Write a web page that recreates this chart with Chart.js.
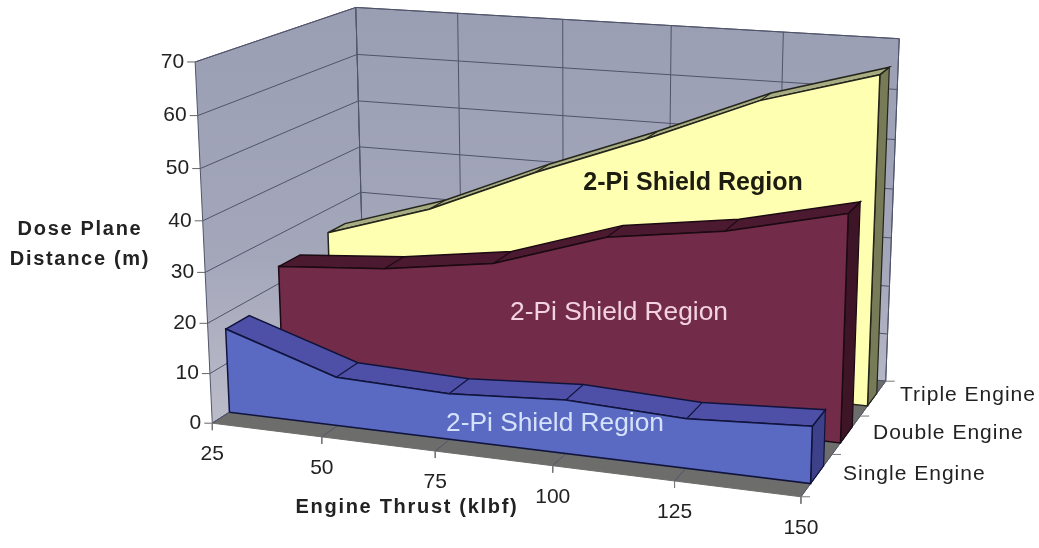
<!DOCTYPE html>
<html>
<head>
<meta charset="utf-8">
<title>Dose plane distance</title>
<style>
  html, body { margin: 0; padding: 0; background: #fff; }
  canvas { display: block; }
</style>
<script src="https://cdn.jsdelivr.net/npm/chart.js@4/dist/chart.umd.min.js"></script>
</head>
<body>
<canvas id="grafico" width="1039" height="548"></canvas>
<script>
// values
const empuje = [25, 50, 75, 100, 125, 150];
const ticksDosis = [0, 10, 20, 30, 40, 50, 60, 70];
const motores = ["Single Engine", "Double Engine", "Triple Engine"];
const single = [16.9, 9.7, 9, 10.4, 9.5, 10.8];
const double = [23.5, 25.2, 28.4, 35.7, 38.9, 44.2];
const triple = [25, 32, 41.5, 50, 59.3, 65.8];

const etiquetaRegion = "2-Pi Shield Region";
const tituloY = ["Dose Plane", "Distance (m)"];
const tituloX = "Engine Thrust (klbf)";

// depth of each series along the third axis, 0 front, 1 back
const franjas = [[0.10, 0.24], [0.43, 0.57], [0.76, 0.88]];

// picture position of known box points, used to solve the 3D view
const calibracion = [
  [0, 0, 0, 212, 422], [0, 0, 0, 212, 422], [1, 0, 0, 802, 498], [1, 0, 1, 885, 380], [0, 0, 1, 365, 328],
  [0, 1, 0, 195, 63], [0, 1, 0, 195, 63], [0, 1, 1, 356, 6], [1, 1, 1, 899, 39],
  [0.4, 1, 1, 563, 19], [0.4, 0, 0, 435, 451], [0, 0.5, 0, 204, 246]
];

function resolverVista(puntos) {
  const A = [], b = [];
  puntos.forEach(([x, y, z, u, v]) => {
    A.push([x, y, z, 1, 0, 0, 0, 0, -u * x, -u * y, -u * z]); b.push(u);
    A.push([0, 0, 0, 0, x, y, z, 1, -v * x, -v * y, -v * z]); b.push(v);
  });
  const n = 11;
  const M = [];
  for (let i = 0; i < n; i++) {
    M.push([]);
    for (let j = 0; j < n; j++) M[i].push(A.reduce((s, f) => s + f[i] * f[j], 0));
    M[i].push(A.reduce((s, f, k) => s + f[i] * b[k], 0));
  }
  for (let i = 0; i < n; i++) {
    let p = i;
    for (let k = i + 1; k < n; k++) if (Math.abs(M[k][i]) > Math.abs(M[p][i])) p = k;
    [M[i], M[p]] = [M[p], M[i]];
    for (let k = 0; k < n; k++) {
      if (k === i) continue;
      const f = M[k][i] / M[i][i];
      for (let j = i; j <= n; j++) M[k][j] -= f * M[i][j];
    }
  }
  return M.map((fila, i) => fila[n] / fila[i]);
}

const vista = resolverVista(calibracion);

function proyectar(thrust, dosis, z) {
  const x = (thrust - 25) / 125;
  const y = dosis / 70;
  const w = vista[8] * x + vista[9] * y + vista[10] * z + 1;
  return {
    x: (vista[0] * x + vista[1] * y + vista[2] * z + vista[3]) / w,
    y: (vista[4] * x + vista[5] * y + vista[6] * z + vista[7]) / w
  };
}

const capas = [];

function poligono(puntos, relleno, borde, grosor) {
  capas.push({
    data: [...puntos, puntos[0]],
    showLine: true,
    fill: "shape",
    backgroundColor: relleno,
    borderColor: borde || relleno,
    borderWidth: grosor === undefined ? 1 : grosor,
    pointRadius: 0,
    tension: 0
  });
}

function linea(puntos, color, grosor) {
  capas.push({
    data: puntos,
    showLine: true,
    fill: false,
    borderColor: color,
    borderWidth: grosor,
    pointRadius: 0,
    tension: 0
  });
}

function degradadoPared(contexto) {
  const g = contexto.chart.ctx.createLinearGradient(0, 0, 0, 430);
  g.addColorStop(0, "#9a9eb3");
  g.addColorStop(0.6, "#a4a7ba");
  g.addColorStop(1, "#bcbdca");
  return g;
}

const t0 = empuje[0];
const t1 = empuje[empuje.length - 1];
const dMax = ticksDosis[ticksDosis.length - 1];
const colorGrid = "#50546a";

// walls and floor
poligono([proyectar(t0, 0, 0), proyectar(t0, dMax, 0), proyectar(t0, dMax, 1), proyectar(t0, 0, 1)], degradadoPared, colorGrid, 1);
poligono([proyectar(t0, 0, 1), proyectar(t0, dMax, 1), proyectar(t1, dMax, 1), proyectar(t1, 0, 1)], degradadoPared, colorGrid, 1);
poligono([proyectar(t0, 0, 0), proyectar(t1, 0, 0), proyectar(t1, 0, 1), proyectar(t0, 0, 1)], "#6d6d6b", "#6d6d6b", 1);

ticksDosis.forEach((d) => {
  linea([proyectar(t0, d, 0), proyectar(t0, d, 1), proyectar(t1, d, 1)], colorGrid, 1);
  const p = proyectar(t0, d, 0);
  linea([{ x: p.x - 8, y: p.y }, p], "#666", 1);
});
empuje.forEach((t) => {
  linea([proyectar(t, 0, 0), proyectar(t, 0, 1), proyectar(t, dMax, 1)], "#50546a", 1);
  const p = proyectar(t, 0, 0);
  linea([p, { x: p.x, y: p.y + 7 }], "#777", 1);
});
[0, 1 / 3, 2 / 3, 1].forEach((z) => {
  const p = proyectar(t1, 0, z);
  linea([p, { x: p.x + 9, y: p.y }], "#777", 1);
});

// one solid per series, back to front
function solido(valores, franja, frente, tapa, lado, borde) {
  const [zf, zb] = franja;
  const ult = empuje.length - 1;
  poligono([
    proyectar(t1, 0, zf), proyectar(t1, valores[ult], zf),
    proyectar(t1, valores[ult], zb), proyectar(t1, 0, zb)
  ], lado, borde, 1.2);
  const arriba = empuje.map((t, i) => proyectar(t, valores[i], zf));
  const atras = empuje.map((t, i) => proyectar(t, valores[i], zb)).reverse();
  poligono([...arriba, ...atras], tapa, borde, 1.5);
  empuje.forEach((t, i) => {
    if (i > 0 && i < ult) linea([proyectar(t, valores[i], zf), proyectar(t, valores[i], zb)], borde, 1.2);
  });
  poligono([proyectar(t0, 0, zf), ...arriba, proyectar(t1, 0, zf)], frente, borde, 1.5);
}

solido(triple, franjas[2], "#ffffb2", "#a8ac82", "#777b58", "#23241a");
solido(double, franjas[1], "#722c4a", "#4c1a30", "#3e1526", "#1c0a12");
solido(single, franjas[0], "#5a69c1", "#4e50a8", "#3d4189", "#10143c");

const fuente = '"Liberation Sans", Arial, sans-serif';

const textos = {
  id: "textos",
  afterDraw(chart) {
    const ctx = chart.ctx;
    ctx.save();
    ctx.textBaseline = "middle";
    ctx.fillStyle = "#222";
    ctx.font = "21px " + fuente;
    ctx.textAlign = "right";
    ticksDosis.forEach((d) => {
      const p = proyectar(t0, d, 0);
      ctx.fillText(String(d), p.x - 11, p.y);
    });
    ctx.textAlign = "center";
    empuje.forEach((t) => {
      const p = proyectar(t, 0, 0);
      ctx.fillText(String(t), p.x, p.y + 31);
    });
    ctx.textAlign = "left";
    ctx.letterSpacing = "1px";
    ctx.font = "21px " + fuente;
    ctx.fillText(motores[2], 900, 395);
    ctx.fillText(motores[1], 873, 433);
    ctx.fillText(motores[0], 843, 474);

    ctx.font = "bold 20px " + fuente;
    ctx.letterSpacing = "1.7px";
    ctx.textAlign = "center";
    ctx.fillText(tituloY[0], 80, 229);
    ctx.fillText(tituloY[1], 80, 259);
    ctx.fillText(tituloX, 407, 507);

    ctx.letterSpacing = "0px";
    ctx.font = "bold 25px " + fuente;
    ctx.fillStyle = "#1c1c10";
    ctx.fillText(etiquetaRegion, 693, 183);
    ctx.font = "26.3px " + fuente;
    ctx.fillStyle = "#f3d3e0";
    ctx.fillText(etiquetaRegion, 619, 313);
    ctx.fillStyle = "#d5e2fb";
    ctx.fillText(etiquetaRegion, 555, 424);
    ctx.restore();
  }
};

new Chart(document.getElementById("grafico"), {
  type: "scatter",
  data: { datasets: capas.slice().reverse() },
  options: {
    responsive: false,
    animation: false,
    layout: { padding: 0 },
    plugins: { legend: { display: false }, tooltip: { enabled: false } },
    scales: {
      x: { type: "linear", min: 0, max: 1039, display: false },
      y: { type: "linear", min: 0, max: 548, reverse: true, display: false }
    }
  },
  plugins: [textos]
});
</script>
</body>
</html>
